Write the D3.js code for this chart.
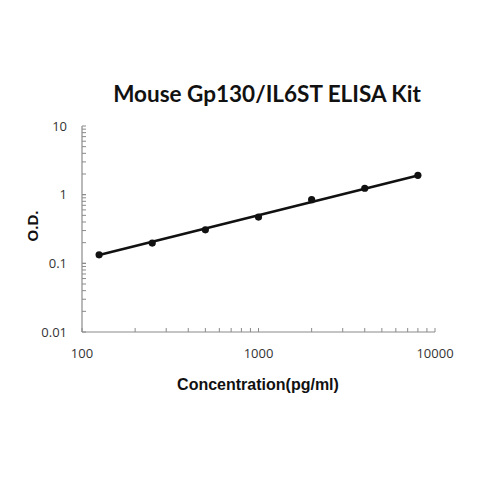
<!DOCTYPE html>
<html>
<head>
<meta charset="utf-8">
<script src="https://cdn.jsdelivr.net/npm/d3@7"></script>
<style>
  body { margin: 0; background: #fff; }
  text { font-family: "Open Sans", sans-serif; }
</style>
</head>
<body>
<script>
// standard curve readings
var concentration = [125, 250, 500, 1000, 2000, 4000, 8000];
var od = [0.133, 0.197, 0.308, 0.472, 0.845, 1.24, 1.91];

// trend line end points
var fitConc = [125, 8000];
var fitOd = [0.132, 1.9];

var xTicks = [100, 1000, 10000];
var yTicks = [0.01, 0.1, 1, 10];

var width = 480;
var height = 480;

var svg = d3.select('body').append('svg')
  .attr('width', width)
  .attr('height', height);

var x = d3.scaleLog().domain([100, 10000]).range([82, 435]);
var y = d3.scaleLog().domain([0.01, 10]).range([332, 126]);

// minor ticks for each decade
var minor = function(lo, hi) {
  var out = [];
  for (var d = lo; d < hi; d *= 10) {
    for (var k = 1; k <= 10; k++) out.push(d * k);
  }
  return out;
};

var axisColor = '#8a8a8a';

var xAxis = svg.append('g').attr('transform', 'translate(0,332)');
xAxis.append('line')
  .attr('x1', x(100)).attr('x2', x(10000))
  .attr('stroke', axisColor).attr('stroke-width', 1.2);
xAxis.selectAll('.tk').data(minor(100, 10000)).enter().append('line')
  .attr('x1', function(d) { return x(d); })
  .attr('x2', function(d) { return x(d); })
  .attr('y1', 0).attr('y2', -4)
  .attr('stroke', axisColor).attr('stroke-width', 1);
xAxis.selectAll('text').data(xTicks).enter().append('text')
  .attr('x', function(d) { return x(d); })
  .attr('y', 26)
  .attr('text-anchor', 'middle')
  .attr('fill', '#333')
  .style('font-size', '13px')
  .text(function(d) { return d; });

var yAxis = svg.append('g').attr('transform', 'translate(82,0)');
yAxis.append('line')
  .attr('y1', y(0.01)).attr('y2', y(10))
  .attr('stroke', axisColor).attr('stroke-width', 1.2);
yAxis.selectAll('.tk').data(minor(0.01, 10)).enter().append('line')
  .attr('y1', function(d) { return y(d); })
  .attr('y2', function(d) { return y(d); })
  .attr('x1', 0).attr('x2', 4)
  .attr('stroke', axisColor).attr('stroke-width', 1);
yAxis.selectAll('text').data(yTicks).enter().append('text')
  .attr('x', -15)
  .attr('y', function(d) { return y(d); })
  .attr('dy', '0.35em')
  .attr('text-anchor', 'end')
  .attr('fill', '#333')
  .style('font-size', '13px')
  .text(function(d) { return d; });

// trend line
var fit = fitConc.map(function(c, i) { return { x: c, y: fitOd[i] }; });
svg.append('path')
  .datum(fit)
  .attr('d', d3.line()
    .x(function(d) { return x(d.x); })
    .y(function(d) { return y(d.y); }))
  .attr('fill', 'none')
  .attr('stroke', '#111')
  .attr('stroke-width', 2.6);

svg.selectAll('circle').data(concentration).enter().append('circle')
  .attr('cx', function(d) { return x(d); })
  .attr('cy', function(d, i) { return y(od[i]); })
  .attr('r', 3.6)
  .attr('fill', '#111');

svg.append('text')
  .attr('x', 267).attr('y', 102)
  .attr('text-anchor', 'middle')
  .style('font-family', 'Lato, sans-serif')
  .style('font-weight', 'bold')
  .style('font-size', '22.5px')
  .attr('fill', '#111')
  .text('Mouse Gp130/IL6ST ELISA Kit');

svg.append('text')
  .attr('transform', 'translate(38,226) rotate(-90)')
  .attr('text-anchor', 'middle')
  .style('font-family', '"Liberation Sans", Arial, sans-serif')
  .style('font-weight', 'bold')
  .style('font-size', '15px')
  .attr('fill', '#111')
  .text('O.D.');

svg.append('text')
  .attr('x', 258).attr('y', 390)
  .attr('text-anchor', 'middle')
  .style('font-family', '"Liberation Sans", Arial, sans-serif')
  .style('font-weight', 'bold')
  .style('font-size', '16px')
  .attr('fill', '#111')
  .text('Concentration(pg/ml)');
</script>
</body>
</html>
